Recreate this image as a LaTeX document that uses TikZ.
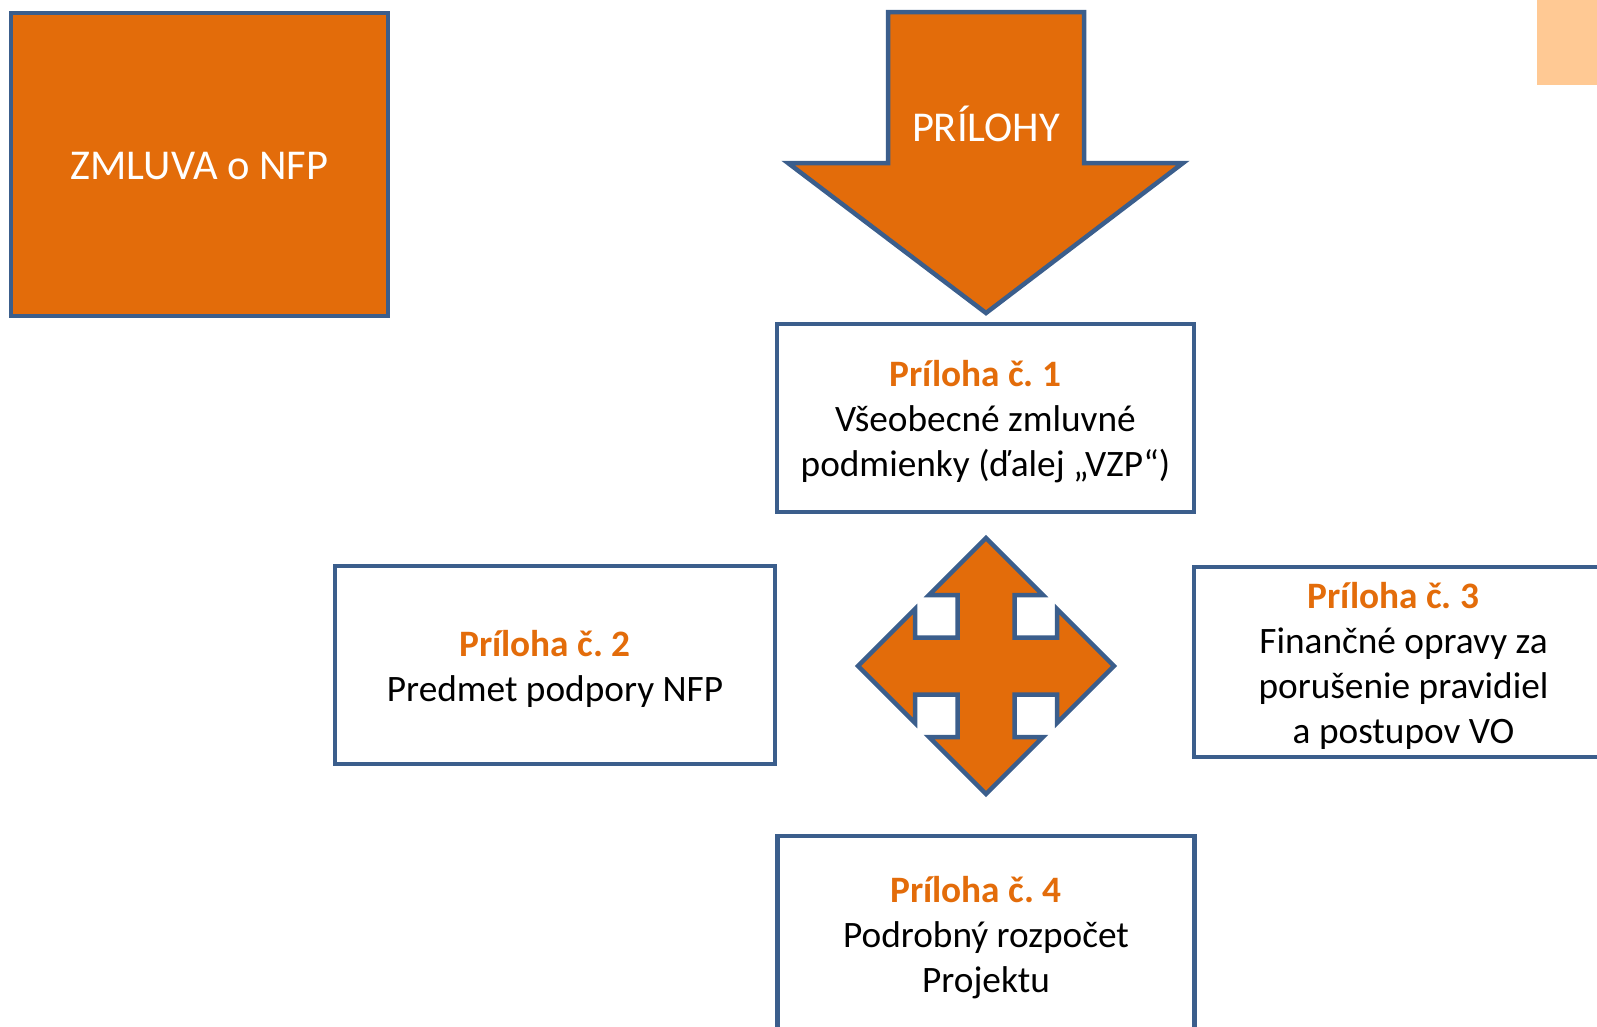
\documentclass[tikz,border=0pt]{standalone}
\usepackage{fontspec}
\setmainfont{Carlito}
\frenchspacing
\definecolor{orng}{HTML}{E36C0A}
\definecolor{bord}{HTML}{3B5E8C}
\definecolor{peach}{HTML}{FFC994}
\begin{document}
\begin{tikzpicture}[x=1pt,y=-1pt,
  shapeline/.style={draw=bord,line width=4.5pt,line join=miter},
  orangebox/.style={shapeline,fill=orng,inner sep=0pt},
  whitebox/.style={shapeline,fill=white,inner sep=0pt},
  bigtext/.style={text=white,inner sep=0pt,font=\fontsize{42.5}{50}\selectfont},
  boxtext/.style={inner sep=0pt,align=center,font=\fontsize{37.3}{45}\selectfont}
]
\useasboundingbox (0,0) rectangle (1597,1026);
\fill[peach] (1537,-5) rectangle (1602,85);

% ZMLUVA box
\node[orangebox,minimum width=377pt,minimum height=303pt] (zmluva) at (199.5,164.5) {};
\node[bigtext] (zmluvat) at ([yshift=-2pt]zmluva.center) {ZMLUVA o NFP};

% PRILOHY down arrow
\draw[shapeline,fill=orng] (888,12) -- (1084,12) -- (1084,163) -- (1183,163) -- (986,313) -- (788,163) -- (888,163) -- cycle;
\node[bigtext] (prilohy) at (986,124) {PRÍLOHY};

% boxes
\node[whitebox,minimum width=417pt,minimum height=188pt] (p1) at (985.5,418) {};
\node[boxtext] (p1t) at ([yshift=-4pt]p1.center)
  {{\color{orng}\bfseries Príloha č. 1}\hspace*{20pt}\\Všeobecné zmluvné\\podmienky (ďalej „VZP“)};
\node[whitebox,minimum width=440pt,minimum height=198pt] (p2) at (555,665) {};
\node[boxtext] (p2t) at ([yshift=-4pt]p2.center)
  {{\color{orng}\bfseries Príloha č. 2}\hspace*{20pt}\\Predmet podpory NFP};
\node[whitebox,minimum width=419pt,minimum height=190pt] (p3) at (1403.5,662) {};
\node[boxtext] (p3t) at ([yshift=-4pt]p3.center)
  {{\color{orng}\bfseries Príloha č. 3}\hspace*{20pt}\\Finančné opravy za\\porušenie pravidiel\\a postupov VO};
\node[whitebox,minimum width=417pt,minimum height=196pt] (p4) at (986,934) {};
\node[boxtext] (p4t) at ([yshift=-4pt]p4.center)
  {{\color{orng}\bfseries Príloha č. 4}\hspace*{20pt}\\Podrobný rozpočet\\Projektu};

% four-way arrow
\begin{scope}[shift={(986,666)}]
\def\T{128}\def\S{71}\def\H{57}\def\W{28.5}
\draw[shapeline,fill=orng] (0,-\T) -- (\H,-\S) -- (\W,-\S) -- (\W,-\W) -- (\S,-\W) -- (\S,-\H) -- (\T,0)
  -- (\S,\H) -- (\S,\W) -- (\W,\W) -- (\W,\S) -- (\H,\S) -- (0,\T)
  -- (-\H,\S) -- (-\W,\S) -- (-\W,\W) -- (-\S,\W) -- (-\S,\H) -- (-\T,0)
  -- (-\S,-\H) -- (-\S,-\W) -- (-\W,-\W) -- (-\W,-\S) -- (-\H,-\S) -- cycle;
\end{scope}
\end{tikzpicture}
\end{document}
